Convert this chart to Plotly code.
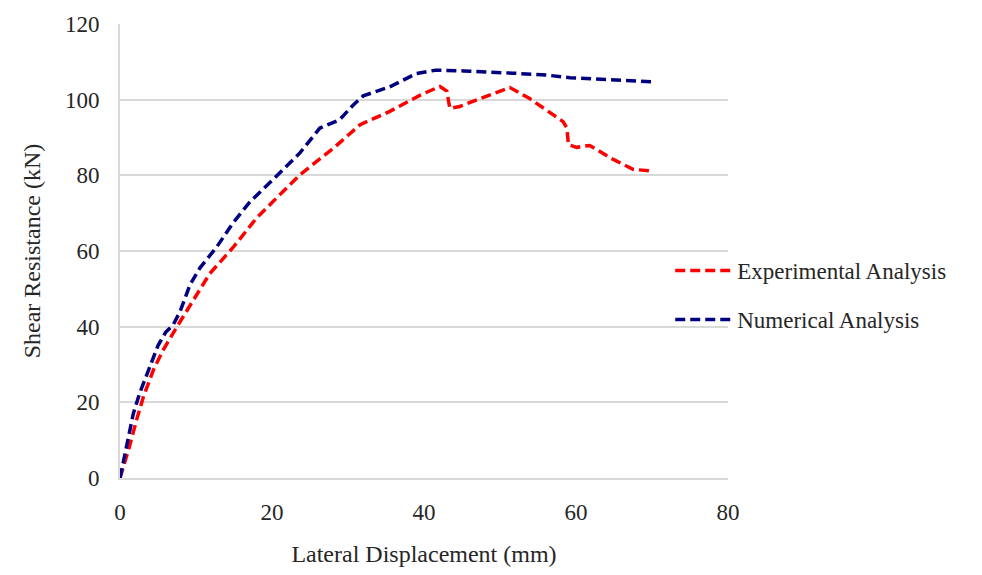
import plotly.graph_objects as go

# Lateral displacement (mm) vs shear resistance (kN)
exp_disp = [0, 1.2, 2.2, 3.1, 4.4, 5.7, 7.5, 9.6, 11.8, 14.9, 18.0, 20.2, 23.7,
            28.1, 31.6, 35.5, 39.5, 42.1, 43.0, 43.4, 44.7, 47.4, 51.3, 53.9,
            56.1, 58.3, 58.8, 59.0, 60.1, 61.8, 64.9, 67.5, 70.0]
exp_shear = [0, 8.0, 15.5, 21.6, 28.6, 33.9, 40.0, 47.0, 54.0, 61.0, 68.8, 73.2,
             80.2, 87.2, 93.4, 96.9, 101.2, 103.5, 102.3, 97.7, 98.2, 100.3,
             103.2, 100.3, 97.3, 94.2, 92.5, 88.1, 87.4, 87.9, 84.2, 81.6, 81.1]

num_disp = [0, 0.9, 1.75, 2.6, 3.9, 5.0, 6.0, 7.0, 7.9, 9.2, 10.5, 12.7, 14.9,
            17.1, 20.2, 23.7, 26.3, 28.9, 30.7, 32.0, 35.5, 39.0, 41.5, 45.2,
            51.7, 56.1, 59.2, 64.9, 70.0]
num_shear = [0, 8.5, 17.0, 22.5, 29.5, 35.0, 38.5, 40.5, 44.0, 51.0, 55.5, 61.0,
             67.5, 73.0, 79.0, 86.0, 92.5, 94.7, 98.6, 101.0, 103.4, 106.9,
             107.8, 107.6, 107.0, 106.5, 105.8, 105.3, 104.7]

x_ticks = [0, 20, 40, 60, 80]
y_ticks = [0, 20, 40, 60, 80, 100, 120]

font_family = "Liberation Serif, Times New Roman, serif"
text_color = "#262626"

fig = go.Figure()
fig.add_trace(go.Scatter(
    x=exp_disp, y=exp_shear, mode="lines", name="Experimental Analysis",
    legendgroup="exp",
    line=dict(color="#FF0000", width=3.5, dash="10px,5px"),
))
fig.add_trace(go.Scatter(
    x=num_disp, y=num_shear, mode="lines", name="Numerical Analysis",
    legendgroup="num",
    line=dict(color="#000080", width=3.5, dash="10px,5px"),
))

fig.update_layout(
    width=982, height=575,
    margin=dict(l=120, r=254, t=22, b=96),
    paper_bgcolor="white", plot_bgcolor="white",
    font=dict(family=font_family, size=23, color=text_color),
    showlegend=True,
    legend=dict(
        x=0.905, y=0.403, xanchor="left", yanchor="middle",
        bgcolor="rgba(0,0,0,0)", font=dict(size=23, color=text_color),
        itemwidth=57, traceorder="grouped", tracegroupgap=16,
    ),
    xaxis=dict(
        range=[0, 80], tickvals=x_ticks, showgrid=False, zeroline=False,
        showline=True, linecolor="#d9d9d9", linewidth=2,
        ticks="", ticklabelstandoff=12,
        title=dict(text="Lateral Displacement (mm)", standoff=22,
                   font=dict(size=24, color=text_color)),
    ),
    yaxis=dict(
        range=[0, 120], tickvals=y_ticks, showgrid=True, gridcolor="#d9d9d9",
        gridwidth=2, zeroline=False,
        showline=True, linecolor="#d9d9d9", linewidth=2,
        ticks="", ticklabelstandoff=14,
        title=dict(text="Shear Resistance (kN)", standoff=18,
                   font=dict(size=24, color=text_color)),
    ),
)

fig.write_html("out.html")
